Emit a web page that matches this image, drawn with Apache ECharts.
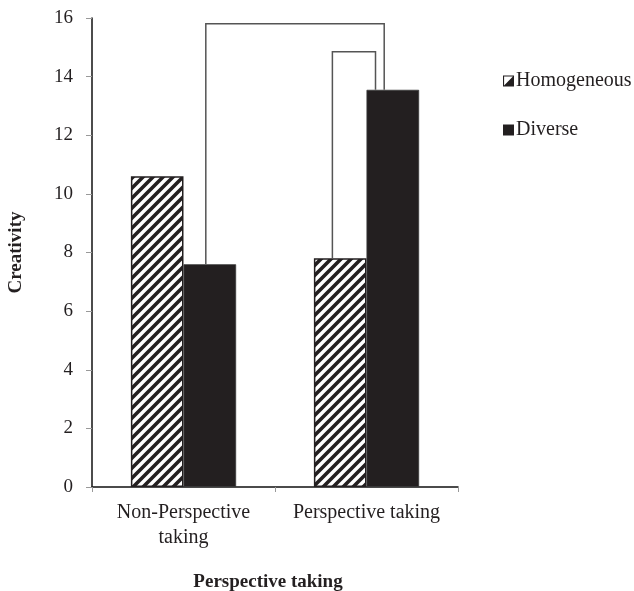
<!DOCTYPE html>
<html><head><meta charset="utf-8">
<script src="https://cdn.jsdelivr.net/npm/echarts@6/dist/echarts.min.js"></script>
<style>html,body{margin:0;padding:0;background:#fff}#c{width:634px;height:591px}</style>
</head><body><div id="c"></div>
<script>
const categories = ['Non-Perspective\ntaking', 'Perspective taking'];
const homogeneous = [10.6, 7.8];
const diverse = [7.6, 13.55];
const yTicks = [0, 2, 4, 6, 8, 10, 12, 14, 16];
// brackets: [category index, series (0=homog,1=diverse)] pairs and bracket heights
const bracketFrom = [[0, 1], [1, 0]];
const bracketTo = [[1, 1], [1, 1]];
const bracketTop = [15.8, 14.85];

const seriesValues = [homogeneous, diverse];
const FONT = '"Liberation Serif", "Times New Roman", serif';
const INK = '#231f20';

// hatch pattern
const pc = document.createElement('canvas');
pc.width = 10; pc.height = 10;
const g = pc.getContext('2d');
g.fillStyle = '#fff'; g.fillRect(0, 0, 10, 10);
g.strokeStyle = INK; g.lineWidth = 3.6; g.lineCap = 'square';
g.beginPath();
g.moveTo(-5, 5); g.lineTo(5, -5);
g.moveTo(0, 10); g.lineTo(10, 0);
g.moveTo(5, 15); g.lineTo(15, 5);
g.stroke();

const legOffsets = [[-4, -8.6], [-7.8, -17.3]];

const chart = echarts.init(document.getElementById('c'), null, {renderer: 'canvas'});
chart.setOption({
  animation: false,
  backgroundColor: '#fff',
  textStyle: {fontFamily: FONT},
  grid: {left: 92, right: 176, top: 18, bottom: 104, containLabel: false, outerBoundsMode: 'none'},
  legend: {
    orient: 'vertical', left: 498, top: 66, itemWidth: 11, itemHeight: 11, itemGap: 29,
    textStyle: {fontFamily: FONT, fontSize: 20, color: INK, padding: [0, 0, 0, -3]},
    data: [
      {name: 'Homogeneous', icon: 'path://M0,0H10V10H0Z M1,1V9H9V1Z M9,1L9,9L1,9Z', itemStyle: {color: INK, borderWidth: 0}},
      {name: 'Diverse', icon: 'rect', itemStyle: {color: INK, borderWidth: 0}}
    ]
  },
  xAxis: {
    type: 'category', data: categories,
    name: 'Perspective taking', nameLocation: 'middle', nameGap: 86,
    nameTextStyle: {fontFamily: FONT, fontSize: 19, fontWeight: 'bold', color: INK, verticalAlign: 'top', padding: [0, 14, 0, 0]},
    axisLine: {lineStyle: {color: '#111', width: 1.5}},
    axisTick: {show: true, length: 5, lineStyle: {color: '#999'}},
    axisLabel: {fontFamily: FONT, fontSize: 20, color: INK, margin: 13, lineHeight: 25, interval: 0, hideOverlap: false}
  },
  yAxis: {
    type: 'value', min: 0, max: 16, interval: 2,
    name: 'Creativity', nameLocation: 'middle', nameGap: 66,
    nameTextStyle: {fontFamily: FONT, fontSize: 19, fontWeight: 'bold', color: INK},
    axisLine: {show: true, lineStyle: {color: '#111', width: 1.5}},
    axisTick: {show: true, length: 6, lineStyle: {color: '#999'}},
    splitLine: {show: false},
    axisLabel: {fontFamily: FONT, fontSize: 19, color: INK, margin: 19,
      formatter: v => yTicks.includes(v) ? String(v) : ''}
  },
  series: [
    {name: 'Homogeneous', type: 'bar', data: homogeneous, barGap: '0%', barCategoryGap: '42.5%',
      itemStyle: {color: {image: pc, repeat: 'repeat'}, borderColor: INK, borderWidth: 1.5}},
    {name: 'Diverse', type: 'bar', data: diverse,
      itemStyle: {color: INK, borderColor: '#3a3a3a', borderWidth: 0.8}},
    {name: 'brackets', type: 'custom', data: bracketTop.map((t, i) => [i, t]), z: 5, silent: true,
      renderItem: function (params, api) {
        const i = api.value(0);
        const top = api.value(1);
        const band = api.size([1, 0])[0];
        const bw = band * (1 - 0.425) / 2;
        const ends = [bracketFrom[i], bracketTo[i]];
        const pts = ends.map((e, k) => {
          const c = api.coord([e[0], 0]);
          const x = c[0] + (e[1] === 0 ? -bw / 2 : bw / 2) + legOffsets[i][k];
          const yb = api.coord([e[0], seriesValues[e[1]][e[0]]])[1];
          return [x, yb];
        });
        const yt = api.coord([0, top])[1];
        return {type: 'polyline', shape: {points: [pts[0], [pts[0][0], yt], [pts[1][0], yt], pts[1]]},
          style: {stroke: '#555', lineWidth: 1.5, fill: null}};
      }}
  ]
});
</script></body></html>
